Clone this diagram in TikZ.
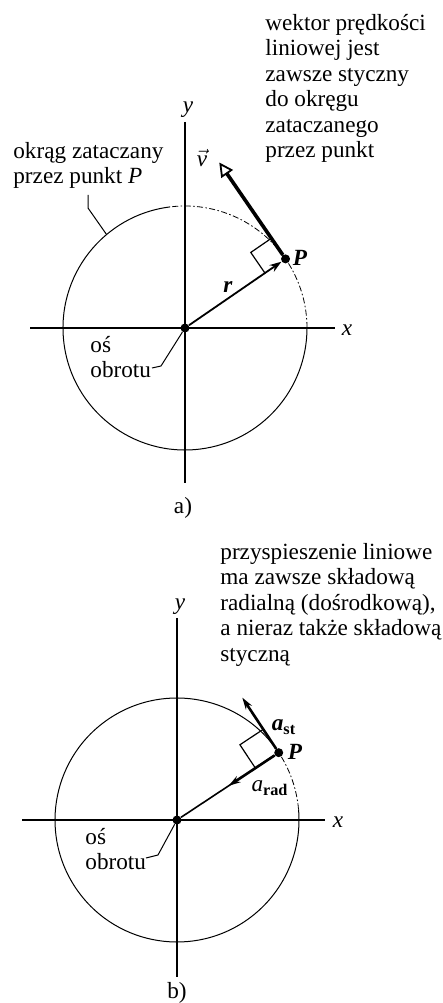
\documentclass[tikz,border=0pt]{standalone}
\usepackage{fontspec}
\setmainfont{Liberation Serif}
\usetikzlibrary{calc,arrows.meta}
\newcommand{\notesize}{\fontsize{11.6}{12.7}\selectfont}
\tikzset{
  axis/.style     = {line width=0.75pt},
  rim/.style      = {line width=0.5pt},
  % the scan shows part of the circle only faintly
  rimfaint/.style = {line width=0.4pt, dash pattern=on 3pt off 1.2pt on 0.8pt off 1.2pt},
  lead/.style     = {line width=0.5pt},
  sq/.style       = {line width=0.6pt},
  note/.style     = {align=left, font=\notesize, inner sep=0pt, anchor=north west},
  lbl/.style      = {font=\notesize\itshape, inner sep=0pt},
  blbl/.style     = {lbl, font=\notesize\bfseries\itshape},
  ptdot/.style    = {circle, fill, inner sep=0pt, minimum size=4.5pt},
  rvec/.style     = {line width=0.9pt, -{Stealth[length=6pt,width=4pt]}},
  vvec/.style     = {line width=1.8pt, -{Triangle[open,length=7pt,width=7pt,line width=0.9pt]}},
  avec/.style     = {line width=1.3pt, -{Stealth[length=6pt,width=3.6pt]}},
}

\begin{document}
\begin{tikzpicture}[x=0.5pt, y=0.5pt]
  \useasboundingbox (0,0) rectangle (443,1003);

  % a) predkosc liniowa
  \coordinate (oa) at (185,675);
  \coordinate (pa) at ($(oa)+(34.5:122)$);
  \coordinate (vtip) at ($(pa)+(124.5:117)$);
  \coordinate (ka) at ($(oa)+(130:122)$);

  \draw[rim] ($(oa)+(97:122)$) arc[start angle=97, end angle=360, radius=122];
  \draw[rimfaint] ($(oa)+(0:122)$) arc[start angle=0, end angle=97, radius=122];
  \draw[axis] (30,675) -- (335,675);
  \draw[axis] (185,881) -- (185,520);

  \node[lbl] (xa) at (347,673) {x};
  \node[lbl] (ya) at (188,893) {y};
  \node[ptdot] (oad) at (oa) {};
  \node[ptdot] (pad) at (pa) {};
  \draw[rvec] (oad) -- (pad);
  \draw[sq] (pa) -- ++(124.5:25) -- ++(214.5:25) -- ++(-55.5:25);
  \draw[vvec] (pad) -- (vtip);

  \node[blbl] (pal) at (300,745) {P};
  \node[blbl] (ra) at (228,716) {r};
  \node[lbl] (va) at (202,845) {$\vec{\textit{v}}$};

  \node[note] (vnote) at (265,989) {wektor prędkości\\liniowej jest\\zawsze styczny\\do okręgu\\zataczanego\\przez punkt};
  \node[note] (knote) at (13,861) {okrąg zataczany\\przez punkt \textit{P}};
  \coordinate (k1) at (88,808);
  \coordinate (k2) at (88,795);
  \draw[lead] (k1) -- (k2) -- (ka);
  \node[note] (onote) at (90,667) {oś\\obrotu};
  \coordinate (o1) at (152,635);
  \coordinate (o2) at (161,637);
  \draw[lead] (o1) -- (o2) -- (oad);
  \node[lbl, font=\notesize] (alab) at (183,495) {a)};

  % b) przyspieszenie liniowe
  \coordinate (ob) at (177,183);
  \coordinate (pb) at ($(ob)+(33.5:122)$);
  \coordinate (sttip) at ($(pb)+(123.5:66)$);
  \coordinate (radtip) at ($(ob)+(33.5:62)$);

  \draw[rim] ($(ob)+(33.5:122)$) arc[start angle=33.5, end angle=365, radius=122];
  \draw[rimfaint] ($(ob)+(5:122)$) arc[start angle=5, end angle=33.5, radius=122];
  \draw[axis] (22,183) -- (325,183);
  \draw[axis] (177,385) -- (177,26);

  \node[lbl] (xb) at (338,181) {x};
  \node[lbl] (yb) at (180,396) {y};
  \node[ptdot] (obd) at (ob) {};
  \node[ptdot] (pbd) at (pb) {};
  \draw[line width=0.8pt] (obd) -- (pbd);
  \draw[sq] (pb) -- ++(123.5:28) -- ++(213.5:28) -- ++(-56.5:28);
  \draw[avec] (pbd) -- (sttip);
  \draw[avec] (pbd) -- (radtip);

  \node[blbl] (pbl) at (295,251) {P};
  \node[lbl] (ast) at (284,276) {\textbf{\textit{a}}\textsubscript{\textup{\textbf{st}}}};
  \node[lbl] (arad) at (270,215) {\textit{a}\textsubscript{\textup{\textbf{rad}}}};

  \node[note] (anote) at (220,460) {przyspieszenie liniowe\\ma zawsze składową\\radialną (dośrodkową),\\a nieraz także składową\\styczną};
  \node[note] (onoteb) at (85,175) {oś\\obrotu};
  \coordinate (ob1) at (146,145);
  \coordinate (ob2) at (158,148);
  \draw[lead] (ob1) -- (ob2) -- (obd);
  \node[lbl, font=\notesize] (blab) at (177,10) {b)};
\end{tikzpicture}
\end{document}
